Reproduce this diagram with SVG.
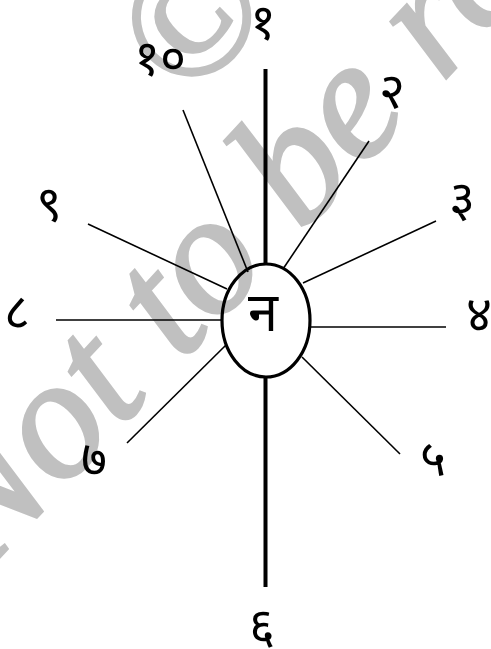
<svg xmlns="http://www.w3.org/2000/svg" width="491" height="649" viewBox="0 0 491 649">
<style>
.wm{font-family:"Liberation Serif",serif;font-style:italic;font-size:172px;fill:#c0c0c0;stroke:#c0c0c0;stroke-width:3}
.num{font-family:"Noto Sans Devanagari","Lohit Devanagari","Noto Sans",sans-serif;font-size:50px;fill:#000;text-anchor:middle;dominant-baseline:central}
.ctr{font-family:"Noto Sans Devanagari","Lohit Devanagari","Noto Sans",sans-serif;font-size:54px;fill:#000;text-anchor:middle;dominant-baseline:central}
.thin{stroke:#000;stroke-width:1.6;fill:none}
.thick{stroke:#000;stroke-width:4;fill:none}
</style>
<rect width="491" height="649" fill="#fff"/>
<g id="watermark">
<text class="wm" transform="translate(185,105) rotate(-46)">©</text>
<text class="wm" transform="translate(-18,576) rotate(-47)">Not to be re</text>
</g>
<g id="connectors">
<line class="thick" x1="265.5" y1="69" x2="265.5" y2="264"/>
<line class="thick" x1="265.5" y1="376" x2="265.5" y2="587"/>
<line class="thin" x1="183" y1="110" x2="248" y2="272"/>
<line class="thin" x1="369" y1="141" x2="283" y2="269"/>
<line class="thin" x1="436" y1="221" x2="303" y2="283"/>
<line class="thin" x1="446" y1="327" x2="311" y2="327"/>
<line class="thin" x1="400" y1="454" x2="302" y2="357"/>
<line class="thin" x1="127" y1="443" x2="226" y2="345"/>
<line class="thin" x1="56" y1="320" x2="222" y2="320"/>
<line class="thin" x1="88" y1="224" x2="227" y2="289"/>
</g>
<g id="center">
<ellipse cx="266" cy="320.5" rx="44" ry="56.5" fill="none" stroke="#000" stroke-width="3.2"/>
<text class="ctr" x="263" y="318">न</text>
</g>
<g id="n1"><text class="num" x="263" y="26">१</text></g>
<g id="n2"><text class="num" x="392" y="95">२</text></g>
<g id="n3"><text class="num" x="462" y="203">३</text></g>
<g id="n4"><text class="num" x="479" y="318">४</text></g>
<g id="n5"><text class="num" x="433" y="462">५</text></g>
<g id="n6"><text class="num" x="262" y="630">६</text></g>
<g id="n7"><text class="num" x="94" y="463">७</text></g>
<g id="n8"><text class="num" x="17" y="316">८</text></g>
<g id="n9"><text class="num" x="49" y="208">९</text></g>
<g id="n10"><text class="num" x="160" y="62">१०</text></g>
</svg>
